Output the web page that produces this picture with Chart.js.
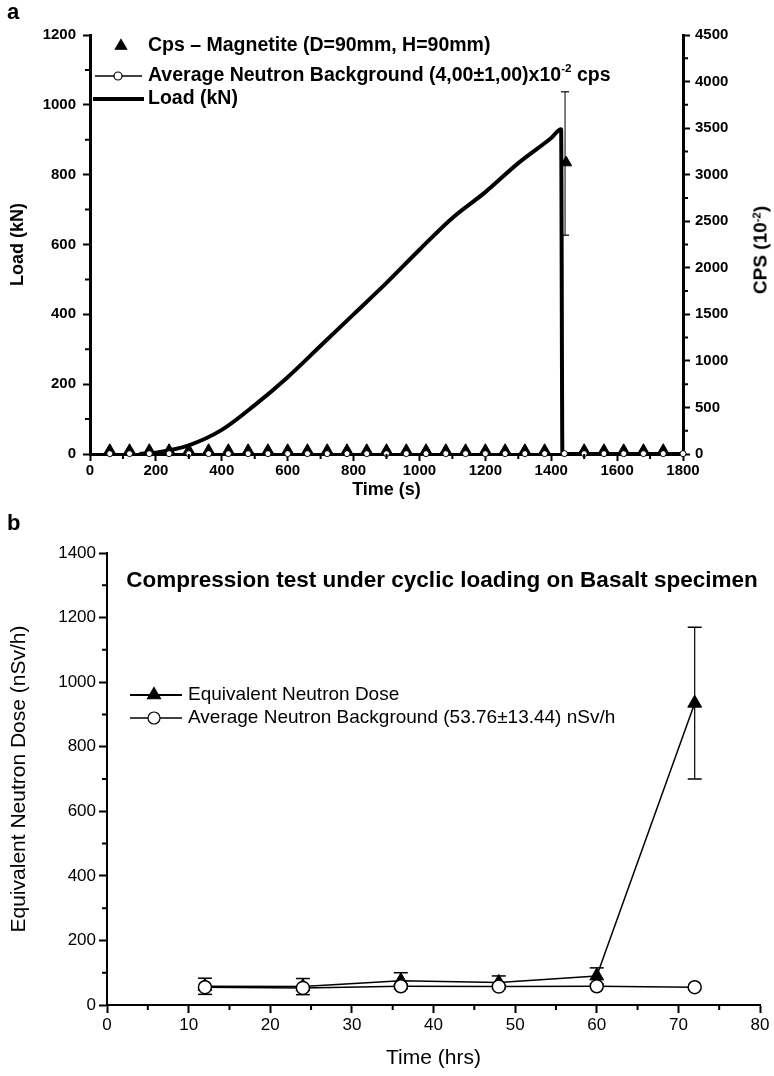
<!DOCTYPE html>
<html>
<head>
<meta charset="utf-8">
<script src="https://cdn.jsdelivr.net/npm/chart.js@4.4.1/dist/chart.umd.min.js"></script>
<style>
  html, body { margin: 0; padding: 0; background: #fff; }
  #page { position: relative; width: 774px; height: 1076px; overflow: hidden; }
  .box { position: absolute; left: 0; width: 774px; }
  #boxA { top: 0; height: 520px; }
  #boxB { top: 520px; height: 556px; }
  .lbl { position: absolute; font-family: 'Liberation Sans', Arial, sans-serif; color: #000; white-space: nowrap; line-height: 1; }
  .lbl sup { font-size: 60%; vertical-align: 0.55em; }
</style>
</head>
<body>
<div id="page">
  <div class="box" id="boxA"><canvas id="chartA" width="774" height="520"></canvas></div>
  <div class="box" id="boxB"><canvas id="chartB" width="774" height="556"></canvas></div>
  <div class="lbl" style="left:7px; top:1px; font-weight:bold; font-size:22px;">a</div>
  <div class="lbl" style="left:7px; top:512px; font-weight:bold; font-size:22px;">b</div>
  <div class="lbl" id="cpsTitle" style="left:760px; top:250px; font-weight:bold; font-size:19px; transform: translate(-50%,-50%) rotate(-90deg);">CPS (10<sup>-2</sup>)</div>
  <div class="lbl" style="left:442px; top:580px; font-weight:bold; font-size:22.5px; transform: translate(-50%,-50%);">Compression test under cyclic loading on Basalt specimen</div>
</div>
<script>
// ── panel a: load + count rate vs time ──
const loadTime = [150, 200, 300, 400, 500, 600, 700, 800, 900, 1000, 1100, 1200, 1300, 1400, 1430, 1434, 1800];
const loadKN   = [0, 4, 25, 69, 140, 220, 310, 400, 490, 585, 676, 750, 833, 905, 930, 0, 0];

const cpsTime  = [60, 120, 180, 240, 300, 360, 420, 480, 540, 600, 660, 720, 780, 840, 900, 960, 1020, 1080, 1140, 1200, 1260, 1320, 1380, 1445, 1500, 1560, 1620, 1680, 1740];
const cpsValue = [40, 40, 40, 40, 40, 40, 40, 40, 40, 40, 40, 40, 40, 40, 40, 40, 40, 40, 40, 40, 40, 40, 40, 3130, 40, 40, 40, 40, 40];
const cpsErrTime = [1442];
const cpsErrLow  = [2350];
const cpsErrHigh = [3890];

const bgTimeA = [60, 120, 180, 240, 300, 360, 420, 480, 540, 600, 660, 720, 780, 840, 900, 960, 1020, 1080, 1140, 1200, 1260, 1320, 1380, 1440, 1500, 1560, 1620, 1680, 1740, 1800];
const bgCpsA  = [4, 4, 4, 4, 4, 4, 4, 4, 4, 4, 4, 4, 4, 4, 4, 4, 4, 4, 4, 4, 4, 4, 4, 4, 4, 4, 4, 4, 4, 4];

// ── panel b: dose vs time ──
const hoursB   = [12, 24, 36, 48, 60, 72];
const doseB    = [58, 57, 75, 70, 90, 935];
const doseErrB = [25, 25, 25, 20, 25, 235];
const bgDoseB  = [55, 53, 58, 57, 58, 55];

const FONT = "'Liberation Sans', Arial, Helvetica, sans-serif";
Chart.defaults.font.family = FONT;
Chart.defaults.color = '#000';

const pts = (xs, ys) => xs.map((x, i) => ({ x, y: ys[i] }));
const errPts = (xs, lo, hi) => {
  const out = [];
  xs.forEach((x, i) => { out.push({ x, y: lo[i] }, { x, y: hi[i] }, { x, y: null }); });
  return out;
};
const plain = v => String(v);

// short minor ticks between the labelled ones
const minorTicks = {
  id: 'minorTicks',
  afterDraw(chart) {
    const ctx = chart.ctx;
    Object.values(chart.scales).forEach(s => {
      const m = s.options.minor;
      if (!m) return;
      ctx.save();
      ctx.strokeStyle = '#000';
      ctx.lineWidth = m.width;
      ctx.beginPath();
      for (let v = s.min + m.step; v < s.max; v += 2 * m.step) {
        const p = s.getPixelForValue(v);
        if (s.position === 'bottom') { ctx.moveTo(p, s.top); ctx.lineTo(p, s.top + m.length); }
        else if (s.position === 'left') { ctx.moveTo(s.right, p); ctx.lineTo(s.right - m.length, p); }
        else { ctx.moveTo(s.left, p); ctx.lineTo(s.left + m.length, p); }
      }
      ctx.stroke();
      ctx.restore();
    });
  }
};

// legend drawn inside the plot area
function drawMarker(ctx, kind, x, y, r, fill) {
  ctx.beginPath();
  if (kind === 'triangle') {
    ctx.moveTo(x, y - r);
    ctx.lineTo(x + r * 0.866, y + r / 2);
    ctx.lineTo(x - r * 0.866, y + r / 2);
    ctx.closePath();
  } else {
    ctx.arc(x, y, r, 0, Math.PI * 2);
  }
  ctx.fillStyle = fill;
  ctx.fill();
  ctx.stroke();
}

function makeLegend(items, font) {
  return {
    id: 'insideLegend',
    afterDraw(chart) {
      const ctx = chart.ctx;
      ctx.save();
      ctx.strokeStyle = '#000';
      ctx.fillStyle = '#000';
      items.forEach(it => {
        if (it.line) {
          ctx.lineWidth = it.line[2];
          ctx.beginPath();
          ctx.moveTo(it.line[0], it.y);
          ctx.lineTo(it.line[1], it.y);
          ctx.stroke();
        }
        if (it.marker) {
          ctx.lineWidth = 1.2;
          drawMarker(ctx, it.marker, it.mx, it.y, it.mr, it.fill);
        }
        let x = it.tx;
        ctx.textBaseline = 'middle';
        it.parts.forEach(p => {
          const size = p.sup ? font.size * 0.6 : font.size;
          ctx.font = `${font.weight} ${size}px ${FONT}`;
          ctx.fillStyle = '#000';
          ctx.fillText(p.t, x, p.sup ? it.y - font.size * 0.38 : it.y);
          x += ctx.measureText(p.t).width;
        });
      });
      ctx.restore();
    }
  };
}

const legendA = makeLegend([
  { y: 46, marker: 'triangle', mx: 121, mr: 6.5, fill: '#000', tx: 148, parts: [{ t: 'Cps – Magnetite (D=90mm, H=90mm)' }] },
  { y: 76, line: [95, 142, 1.5], marker: 'circle', mx: 118, mr: 4, fill: '#fff', tx: 148,
    parts: [{ t: 'Average Neutron Background (4,00±1,00)x10' }, { t: '-2', sup: true }, { t: ' cps' }] },
  { y: 99, line: [93, 144, 4], tx: 148, parts: [{ t: 'Load (kN)' }] }
], { size: 19.5, weight: 'bold' });

const legendB = makeLegend([
  { y: 175, line: [130, 182, 2], marker: 'triangle', mx: 154, mr: 7.5, fill: '#000', tx: 188, parts: [{ t: 'Equivalent Neutron Dose' }] },
  { y: 198, line: [130, 182, 1.5], marker: 'circle', mx: 154, mr: 6, fill: '#fff', tx: 188, parts: [{ t: 'Average Neutron Background (53.76±13.44) nSv/h' }] }
], { size: 19, weight: 'normal' });

function axisA(extra) {
  return Object.assign({
    type: 'linear',
    grid: { drawOnChartArea: false, tickLength: 7, tickWidth: 2, tickColor: '#000' },
    border: { color: '#000', width: 3 }
  }, extra);
}
const tickFontA = { size: 15, weight: 'bold' };
const titleFontA = { size: 18, weight: 'bold' };

new Chart(document.getElementById('chartA'), {
  type: 'scatter',
  data: {
    datasets: [
      { label: 'Average Neutron Background', data: pts(bgTimeA, bgCpsA), yAxisID: 'y1', showLine: true,
        borderColor: '#000', borderWidth: 1, pointStyle: 'circle', pointRadius: 3,
        pointBackgroundColor: '#fff', pointBorderColor: '#000', pointBorderWidth: 1, clip: false },
      { label: 'Cps – Magnetite', data: pts(cpsTime, cpsValue), yAxisID: 'y1', showLine: false,
        pointStyle: 'triangle', pointRadius: 6.5, pointBackgroundColor: '#000', pointBorderColor: '#000', pointBorderWidth: 1, clip: false },
      { label: 'error', data: errPts(cpsErrTime, cpsErrLow, cpsErrHigh), yAxisID: 'y1', showLine: true, spanGaps: false,
        borderColor: '#000', borderWidth: 1, pointStyle: 'line', pointRadius: 4, pointBorderWidth: 1.2, pointBorderColor: '#000' },
      { label: 'Load (kN)', data: pts(loadTime, loadKN), yAxisID: 'y', showLine: true,
        borderColor: '#000', borderWidth: 4, pointRadius: 0, cubicInterpolationMode: 'monotone' }
    ]
  },
  options: {
    responsive: false,
    devicePixelRatio: 1,
    animation: false,
    events: [],
    layout: { padding: { top: 35, left: 0, right: 0, bottom: 0 } },
    plugins: { legend: { display: false }, tooltip: { enabled: false } },
    scales: {
      x: axisA({
        position: 'bottom', min: 0, max: 1800,
        ticks: { stepSize: 200, font: tickFontA, color: '#000', padding: 1, autoSkip: false, maxRotation: 0, callback: plain },
        title: { display: true, text: 'Time (s)', font: titleFontA, padding: { top: 0, bottom: 19 } },
        minor: { step: 100, length: 5, width: 2 },
        afterFit(s) { s.height = 66; }
      }),
      y: axisA({
        position: 'left', min: 0, max: 1200,
        ticks: { stepSize: 200, font: tickFontA, color: '#000', padding: 7, autoSkip: false, callback: plain },
        title: { display: true, text: 'Load (kN)', font: titleFontA, padding: { top: 7, bottom: 0 } },
        minor: { step: 100, length: 5, width: 2 },
        afterFit(s) { s.width = 90; }
      }),
      y1: axisA({
        position: 'right', min: 0, max: 4500,
        ticks: { stepSize: 500, font: tickFontA, color: '#000', padding: 5, autoSkip: false, callback: plain },
        minor: { step: 250, length: 5, width: 2 },
        afterFit(s) { s.width = 91; }
      })
    }
  },
  plugins: [minorTicks, legendA]
});

function axisB(extra) {
  return Object.assign({
    type: 'linear',
    grid: { drawOnChartArea: false, tickLength: 8, tickWidth: 2, tickColor: '#000' },
    border: { color: '#000', width: 2 }
  }, extra);
}
const tickFontB = { size: 17 };
const titleFontB = { size: 21 };

new Chart(document.getElementById('chartB'), {
  type: 'scatter',
  data: {
    datasets: [
      { label: 'Average Neutron Background (53.76±13.44) nSv/h', data: pts(hoursB, bgDoseB), showLine: true,
        borderColor: '#000', borderWidth: 1.5, pointStyle: 'circle', pointRadius: 6.5,
        pointBackgroundColor: '#fff', pointBorderColor: '#000', pointBorderWidth: 1.5, clip: false },
      { label: 'Equivalent Neutron Dose', data: pts(hoursB, doseB), showLine: true,
        borderColor: '#000', borderWidth: 1.5, pointStyle: 'triangle', pointRadius: 8,
        pointBackgroundColor: '#000', pointBorderColor: '#000', pointBorderWidth: 1, clip: false },
      { label: 'error', data: errPts(hoursB, doseB.map((d, i) => d - doseErrB[i]), doseB.map((d, i) => d + doseErrB[i])),
        showLine: true, spanGaps: false, borderColor: '#000', borderWidth: 1.2,
        pointStyle: 'line', pointRadius: 7, pointBorderWidth: 1.5, pointBorderColor: '#000', clip: false }
    ]
  },
  options: {
    responsive: false,
    devicePixelRatio: 1,
    animation: false,
    events: [],
    layout: { padding: { top: 33, left: 0, right: 14, bottom: 0 } },
    plugins: { legend: { display: false }, tooltip: { enabled: false } },
    scales: {
      x: axisB({
        position: 'bottom', min: 0, max: 80,
        ticks: { stepSize: 10, font: tickFontB, color: '#000', padding: 2, autoSkip: false, maxRotation: 0, callback: plain },
        title: { display: true, text: 'Time (hrs)', font: titleFontB, padding: { top: 0, bottom: 5 } },
        minor: { step: 5, length: 5, width: 2 },
        afterFit(s) { s.height = 71; }
      }),
      y: axisB({
        position: 'left', min: 0, max: 1400,
        ticks: { stepSize: 200, font: tickFontB, color: '#000', padding: 3, autoSkip: false, callback: plain },
        title: { display: true, text: 'Equivalent Neutron Dose (nSv/h)', font: titleFontB, padding: { top: 7, bottom: 0 } },
        minor: { step: 100, length: 5, width: 2 },
        afterFit(s) { s.width = 107; }
      })
    }
  },
  plugins: [minorTicks, legendB]
});
</script>
</body>
</html>
